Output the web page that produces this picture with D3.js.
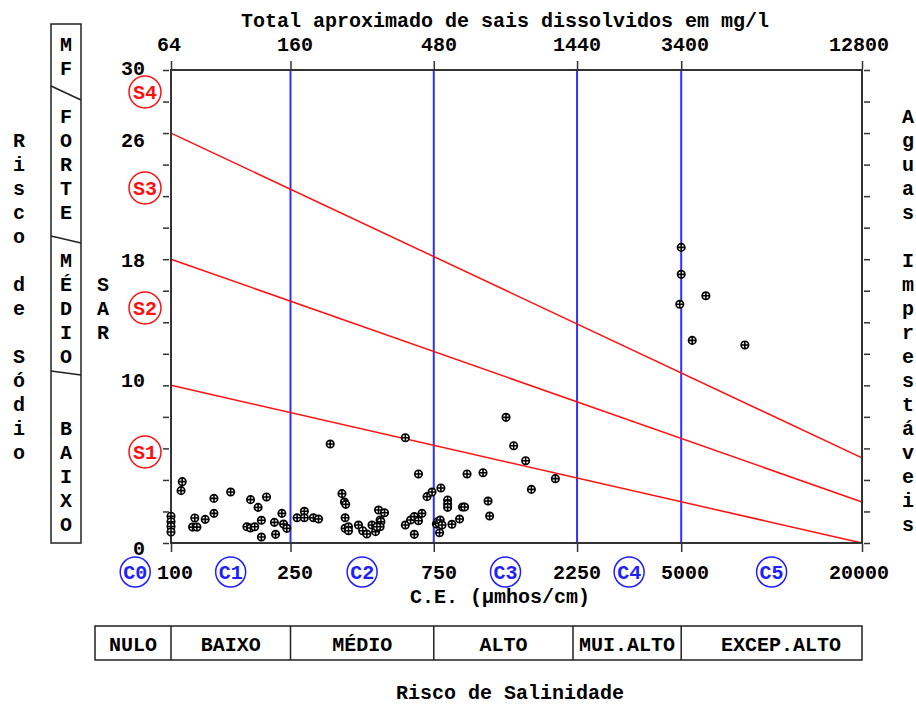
<!DOCTYPE html>
<html>
<head>
<meta charset="utf-8">
<script src="https://cdn.jsdelivr.net/npm/d3@7"></script>
<style>
  body { margin: 0; background: #fff; }
  text { font-family: "Liberation Mono", "DejaVu Sans Mono", monospace; font-size: 20px; font-weight: bold; }
</style>
</head>
<body>
<div class="chart"></div>
<script>
// bottom axis: C.E. (umhos/cm), top axis: matching TDS in mg/l
const ecTicks = [100, 250, 750, 2250, 5000, 20000];
const tdsLabels = ["64", "160", "480", "1440", "3400", "12800"];
const classBreaks = [250, 750, 2250, 5000];
const sarTickValues = d3.range(0, 31, 2);
const sarLabels = [30, 26, 18, 10, 0];

// sodium hazard lines, SAR at C.E. = 100 and at C.E. = 20000
const sarAtStart = [10, 18, 26];
const sarAtEnd = [0, 2.6, 5.4];

// class labels
const sNames = ["S1", "S2", "S3", "S4"];
const sSar = [5.8, 14.9, 22.5, 28.6];
const cNames = ["C0", "C1", "C2", "C3", "C4", "C5"];
const cEc = [76, 158, 433, 1300, 3354, 10000];
const salinityNames = ["NULO", "BAIXO", "MÉDIO", "ALTO", "MUI.ALTO", "EXCEP.ALTO"];

// samples
const ecValues = [100, 100, 100, 100, 109, 108, 120, 118, 122, 130, 139, 139, 158, 184, 195, 208,
  179, 184, 190, 200, 200, 221, 223, 234, 237, 243, 263, 278, 278, 298, 310, 339, 371, 378, 382,
  380, 380, 390, 390, 421, 435, 449, 467, 480, 491, 514, 497, 500, 497, 485, 603, 603, 628, 646,
  646, 667, 667, 685, 712, 740, 792, 765, 772, 780, 788, 799, 784, 834, 834, 834, 862, 914, 935,
  950, 968, 1094, 1137, 1151, 1305, 1384, 1517, 1585, 1905, 5000, 5000, 4946, 6040, 5441, 8147];
const sarValues = [1.7, 1.35, 1.05, 0.7, 3.89, 3.32, 1.59, 1.01, 1.01, 1.5, 2.83, 1.88, 3.23, 2.75, 2.26, 2.92,
  1.03, 0.95, 1.03, 1.44, 0.38, 1.31, 0.55, 1.88, 1.2, 0.93, 1.6, 2.01, 1.6, 1.6, 1.52, 6.28, 3.13, 2.6, 2.45,
  1.6, 0.93, 1.03, 0.78, 1.14, 0.78, 0.57, 1.14, 0.72, 2.09, 1.92, 1.46, 1.35, 1.03, 1.03, 6.68, 1.14, 1.46, 1.67,
  0.55, 1.41, 4.38, 1.88, 2.94, 3.23, 3.49, 1.2, 1.35, 1.25, 1.46, 1.14, 0.65, 2.73, 2.47, 2.26, 1.19, 1.52, 2.28,
  2.28, 4.38, 4.46, 2.66, 1.71, 7.97, 6.17, 5.22, 3.40, 4.08, 18.75, 17.04, 15.14, 15.68, 12.85, 12.56];

const W = 916, H = 704;
const axisColor = "#333";

// text sits on a 24px row grid and a 12px column grid
const rowY = r => 20 + 24 * r;
const base = r => rowY(r) + 7;
const snapCol = x => Math.round((x - 1) / 12) * 12 + 1;
const nearestRow = y => Math.round((y - 20) / 24);

const svg = d3.select(".chart").append("svg")
    .attr("width", W)
    .attr("height", H);

const x = d3.scaleLog().domain([100, 20000]).range([171, 862]);
const y = d3.scaleLinear().domain([0, 30]).range([543, 70]);

// class boundaries (blue)
svg.append("g").selectAll("line")
    .data(classBreaks)
    .join("line")
    .attr("x1", d => x(d)).attr("x2", d => x(d))
    .attr("y1", y(30)).attr("y2", y(0))
    .attr("stroke", "#3030ff")
    .attr("stroke-width", 2);

// sodium hazard lines (red)
svg.append("g").selectAll("line")
    .data(sarAtStart)
    .join("line")
    .attr("x1", x(100)).attr("y1", d => y(d))
    .attr("x2", x(20000)).attr("y2", (d, i) => y(sarAtEnd[i]))
    .attr("stroke", "#ff1010")
    .attr("stroke-width", 1.5);

// frame
svg.append("rect")
    .attr("x", x(100)).attr("y", y(30))
    .attr("width", x(20000) - x(100)).attr("height", y(0) - y(30))
    .attr("fill", "none")
    .attr("stroke", axisColor)
    .attr("stroke-width", 2);

// ticks only, labels go on the text grid
function ticksOnly(g) {
    g.select(".domain").remove();
    g.selectAll(".tick line").attr("stroke", axisColor).attr("stroke-width", 1.5);
    g.selectAll(".tick text").remove();
}
svg.append("g").attr("transform", "translate(169,0)")
    .call(d3.axisLeft(y).tickValues(sarTickValues).tickSize(6)).call(ticksOnly);
svg.append("g").attr("transform", "translate(864,0)")
    .call(d3.axisRight(y).tickValues(sarTickValues).tickSize(6)).call(ticksOnly);
svg.append("g").attr("transform", "translate(0,69)")
    .call(d3.axisTop(x).tickValues(ecTicks).tickSize(8)).call(ticksOnly);
svg.append("g").attr("transform", "translate(0,544)")
    .call(d3.axisBottom(x).tickValues(ecTicks).tickSize(8)).call(ticksOnly);

// top labels
svg.append("text")
    .attr("x", 505).attr("y", base(0))
    .attr("text-anchor", "middle")
    .text("Total aproximado de sais dissolvidos em mg/l");
svg.append("g").selectAll("text")
    .data(tdsLabels)
    .join("text")
    .attr("x", (d, i) => snapCol(x(ecTicks[i]) - d.length * 6))
    .attr("y", base(1))
    .text(d => d);

// bottom labels
svg.append("g").selectAll("text")
    .data(ecTicks)
    .join("text")
    .attr("x", d => snapCol(x(d) - String(d).length * 6))
    .attr("y", base(23))
    .text(d => d);
svg.append("text")
    .attr("x", 500).attr("y", base(24))
    .attr("text-anchor", "middle")
    .text("C.E. (µmhos/cm)");
svg.append("text")
    .attr("x", 510).attr("y", base(28))
    .attr("text-anchor", "middle")
    .text("Risco de Salinidade");

// SAR labels
svg.append("g").selectAll("text")
    .data(sarLabels)
    .join("text")
    .attr("x", 145)
    .attr("y", d => base(nearestRow(y(d))))
    .attr("text-anchor", "end")
    .text(d => d);

// S classes
const sG = svg.append("g").selectAll("g")
    .data(sNames)
    .join("g")
    .attr("transform", (d, i) => `translate(145,${rowY(nearestRow(y(sSar[i])))})`);
sG.append("circle").attr("r", 16).attr("fill", "#fff").attr("stroke", "#ff1010").attr("stroke-width", 1.5);
sG.append("text").attr("text-anchor", "middle").attr("y", 7).attr("fill", "#ff1010").text(d => d);

// C classes
const cG = svg.append("g").selectAll("g")
    .data(cNames)
    .join("g")
    .attr("transform", (d, i) => `translate(${x(cEc[i])},${rowY(23)})`);
cG.append("circle").attr("r", 15).attr("fill", "#fff").attr("stroke", "#2020ff").attr("stroke-width", 1.5);
cG.append("text").attr("text-anchor", "middle").attr("y", 7).attr("fill", "#2020ff").text(d => d);

// salinity hazard box
const boxEdges = [95].concat(ecTicks.map(d => x(d)));
boxEdges[4] = 573; // the MUI.ALTO cell starts a bit left of 2250 in the original
const boxG = svg.append("g");
boxG.append("rect")
    .attr("x", boxEdges[0]).attr("y", 626)
    .attr("width", boxEdges[boxEdges.length - 1] - boxEdges[0]).attr("height", 34)
    .attr("fill", "none").attr("stroke", "#222").attr("stroke-width", 1.5);
boxG.selectAll("line")
    .data(boxEdges.slice(1, -1))
    .join("line")
    .attr("x1", d => d).attr("x2", d => d)
    .attr("y1", 626).attr("y2", 660)
    .attr("stroke", "#222").attr("stroke-width", 1.5);
boxG.selectAll("text")
    .data(salinityNames)
    .join("text")
    .attr("x", (d, i) => i === 5 ? 781 : (boxEdges[i] + boxEdges[i + 1]) / 2)
    .attr("y", base(26))
    .attr("text-anchor", "middle")
    .text(d => d);

// vertical words
function vtext(str, cx, row0) {
    [...str].forEach((ch, i) => {
        if (ch === " ") return;
        svg.append("text")
            .attr("x", cx).attr("y", base(row0 + i))
            .attr("text-anchor", "middle")
            .text(ch);
    });
}
vtext("Risco de Sódio", 19, 5);
vtext("SAR", 103, 11);
vtext("Aguas Imprestáveis", 908, 4);

// sodium hazard box on the left
const sodBox = svg.append("g");
sodBox.append("rect")
    .attr("x", 51).attr("y", 24).attr("width", 30).attr("height", 519)
    .attr("fill", "none").attr("stroke", "#222").attr("stroke-width", 1.5);
[[86, 100], [236, 243], [371, 375]].forEach(s => {
    sodBox.append("line")
        .attr("x1", 51).attr("y1", s[0]).attr("x2", 81).attr("y2", s[1])
        .attr("stroke", "#222").attr("stroke-width", 1.5);
});
vtext("MF", 66, 1);
vtext("FORTE", 66, 4);
vtext("MÉDIO", 66, 10);
vtext("BAIXO", 66, 17);

// samples
const pts = svg.append("g").selectAll("g")
    .data(ecValues.map((d, i) => [d, sarValues[i]]))
    .join("g")
    .attr("transform", d => `translate(${x(d[0])},${y(d[1])})`);
pts.append("circle")
    .attr("r", 3.7)
    .attr("fill", "#fff")
    .attr("stroke", "#000")
    .attr("stroke-width", 1.7);
pts.append("path")
    .attr("d", "M-3.7,0H3.7M0,-3.7V3.7")
    .attr("stroke", "#000")
    .attr("stroke-width", 1.6);
</script>
</body>
</html>
